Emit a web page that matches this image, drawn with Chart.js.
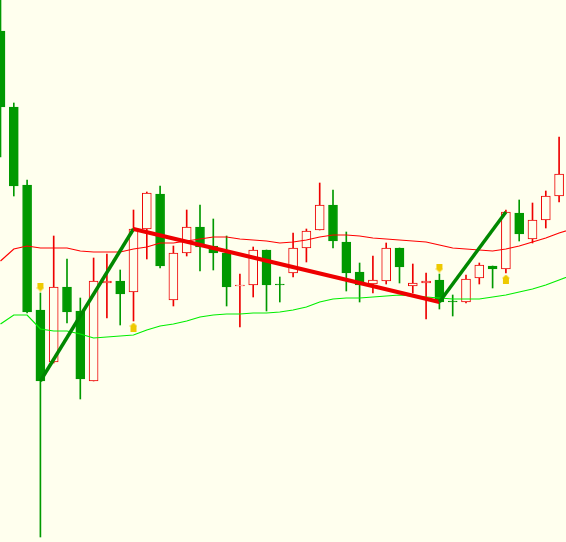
<!DOCTYPE html>
<html>
<head>
<meta charset="utf-8">
<script src="https://cdn.jsdelivr.net/npm/chart.js@4"></script>
<style>
  html, body { margin: 0; padding: 0; background: #FFFFEE; }
  #wrap { width: 566px; height: 542px; position: relative; }
</style>
</head>
<body>
<div id="wrap"><canvas id="chart"></canvas></div>
<script>
const BG = '#FFFFEE'
const UP_COLOR = '#EE0000'
const DOWN_COLOR = '#009900'
const ARROW_COLOR = '#EEC900'

// candles, one per bar
const opens = [1.1311, 1.1235, 1.1157, 1.1032, 1.0980, 1.1055, 1.1031, 1.0961, 1.1059, 1.1061,
	1.1050, 1.1113, 1.1148, 1.1042, 1.1089, 1.1115, 1.1096, 1.1089, 1.1056, 1.1057,
	1.1092, 1.1058, 1.1069, 1.1094, 1.1112, 1.1137, 1.1100, 1.1070, 1.1058, 1.1061,
	1.1094, 1.1056, 1.1059, 1.1062, 1.1041, 1.1040, 1.1064, 1.1076, 1.1073, 1.1129,
	1.1103, 1.1122, 1.1146]
const highs = [1.1352, 1.1239, 1.1162, 1.1049, 1.1106, 1.1083, 1.1044, 1.1084, 1.1088, 1.1072,
	1.1132, 1.1150, 1.1156, 1.1096, 1.1132, 1.1137, 1.1123, 1.1106, 1.1068, 1.1095,
	1.1092, 1.1065, 1.1109, 1.1113, 1.1159, 1.1152, 1.1110, 1.1079, 1.1086, 1.1099,
	1.1094, 1.1078, 1.1069, 1.1068, 1.1047, 1.1067, 1.1079, 1.1076, 1.1132, 1.1142,
	1.1139, 1.1151, 1.1205]
const lows = [1.1185, 1.1146, 1.1029, 1.0805, 1.0979, 1.1019, 1.0943, 1.0961, 1.1024, 1.1017,
	1.1021, 1.1083, 1.1074, 1.1036, 1.1086, 1.1071, 1.1072, 1.1036, 1.1015, 1.1045,
	1.1031, 1.1040, 1.1065, 1.1080, 1.1112, 1.1094, 1.1051, 1.1040, 1.1049, 1.1058,
	1.1059, 1.1049, 1.1023, 1.1033, 1.1026, 1.1039, 1.1058, 1.1054, 1.1069, 1.1101,
	1.1099, 1.1114, 1.1140]
const closes = [1.1235, 1.1156, 1.1030, 1.0961, 1.1055, 1.1030, 1.0963, 1.1061, 1.1061, 1.1048,
	1.1113, 1.1149, 1.1076, 1.1089, 1.1115, 1.1095, 1.1089, 1.1055, 1.1057, 1.1092,
	1.1057, 1.1057, 1.1094, 1.1111, 1.1137, 1.1101, 1.1069, 1.1057, 1.1062, 1.1094,
	1.1075, 1.1059, 1.1061, 1.1040, 1.1040, 1.1063, 1.1077, 1.1073, 1.1130, 1.1108,
	1.1122, 1.1146, 1.1168]

// envelope bands (one extra value for the bar beyond the right edge)
const upperBand = [1.1081, 1.1093, 1.1096, 1.1094, 1.1094, 1.1094, 1.1091, 1.1090, 1.1090, 1.1090,
	1.1093, 1.1095, 1.1099, 1.1099, 1.1101, 1.1103, 1.1105, 1.1105, 1.1103, 1.1102,
	1.1101, 1.1099, 1.1100, 1.1102, 1.1105, 1.1107, 1.1107, 1.1106, 1.1104, 1.1103,
	1.1102, 1.1101, 1.1100, 1.1097, 1.1094, 1.1093, 1.1092, 1.1091, 1.1093, 1.1096,
	1.1100, 1.1104, 1.1109, 1.1113]
const lowerBand = [1.1018, 1.1027, 1.1027, 1.1013, 1.1011, 1.1011, 1.1008, 1.1004, 1.1005, 1.1006,
	1.1007, 1.1012, 1.1016, 1.1018, 1.1021, 1.1025, 1.1027, 1.1028, 1.1028, 1.1029,
	1.1029, 1.1030, 1.1032, 1.1035, 1.1040, 1.1043, 1.1044, 1.1044, 1.1045, 1.1046,
	1.1047, 1.1046, 1.1045, 1.1044, 1.1043, 1.1043, 1.1043, 1.1045, 1.1047, 1.1050,
	1.1053, 1.1057, 1.1062, 1.1067]

// zigzag turning points (bar index, price)
const zigzagBars = [3, 10, 33, 38]
const zigzagPrices = [1.0961, 1.1113, 1.1040, 1.1130]

// signal arrows
const downArrowBars = [3, 33]
const downArrowPrices = [1.1055, 1.1074]
const upArrowBars = [10, 38]
const upArrowPrices = [1.1015, 1.1063]

function arrowImage(up) {
	const c = document.createElement('canvas')
	c.width = 8
	c.height = 9
	const g = c.getContext('2d')
	g.fillStyle = ARROW_COLOR
	g.beginPath()
	if (up) {
		g.moveTo(4, 0); g.lineTo(8, 4); g.lineTo(7, 4); g.lineTo(7, 9)
		g.lineTo(1, 9); g.lineTo(1, 4); g.lineTo(0, 4)
	} else {
		g.moveTo(1, 0); g.lineTo(7, 0); g.lineTo(7, 5); g.lineTo(8, 5)
		g.lineTo(4, 9); g.lineTo(0, 5); g.lineTo(1, 5)
	}
	g.closePath()
	g.fill()
	return c
}

const isUp = closes.map((c, i) => c >= opens[i])
const wickData = highs.map((h, i) => ({ x: i, y: [lows[i], h] }))
const bodyData = opens.map((o, i) => ({ x: i, y: [Math.min(o, closes[i]), Math.max(o, closes[i])] }))

new Chart(document.getElementById('chart'), {
	type: 'bar',
	data: {
		datasets: [
			{
				label: 'wicks',
				data: wickData,
				backgroundColor: isUp.map(u => u ? UP_COLOR : DOWN_COLOR),
				borderWidth: 0,
				barThickness: 1,
				grouped: false,
				order: 6
			},
			{
				label: 'bodies',
				data: bodyData,
				backgroundColor: isUp.map(u => u ? BG : DOWN_COLOR),
				borderColor: isUp.map(u => u ? UP_COLOR : DOWN_COLOR),
				borderWidth: 1,
				borderSkipped: false,
				barThickness: 9,
				grouped: false,
				order: 5
			},
			{
				type: 'line',
				label: 'upper',
				data: upperBand.map((v, i) => ({ x: i, y: v })),
				borderColor: '#FF0000',
				borderWidth: 1.2,
				pointRadius: 0,
				tension: 0,
				order: 4
			},
			{
				type: 'line',
				label: 'lower',
				data: lowerBand.map((v, i) => ({ x: i, y: v })),
				borderColor: '#00EE00',
				borderWidth: 1.2,
				pointRadius: 0,
				tension: 0,
				order: 4
			},
			{
				type: 'line',
				label: 'zigzag',
				data: zigzagBars.map((b, i) => ({ x: b, y: zigzagPrices[i] })),
				borderWidth: 4,
				pointRadius: 0,
				tension: 0,
				segment: {
					borderColor: ctx => ctx.p1.parsed.y > ctx.p0.parsed.y ? '#008800' : '#EE0000',
					borderWidth: ctx => ctx.p1.parsed.y > ctx.p0.parsed.y ? 3.5 : 4
				},
				order: 2
			},
			{
				type: 'scatter',
				label: 'sell',
				data: downArrowBars.map((b, i) => ({ x: b, y: downArrowPrices[i] })),
				pointStyle: arrowImage(false),
				order: 1
			},
			{
				type: 'scatter',
				label: 'buy',
				data: upArrowBars.map((b, i) => ({ x: b, y: upArrowPrices[i] })),
				pointStyle: arrowImage(true),
				order: 1
			}
		]
	},
	options: {
		responsive: true,
		maintainAspectRatio: false,
		animation: false,
		layout: { padding: 0, autoPadding: false },
		plugins: {
			legend: { display: false },
			tooltip: { enabled: false }
		},
		scales: {
			x: {
				type: 'linear',
				display: false,
				offset: false,
				min: -0.0376,
				max: 42.519
			},
			y: {
				display: false,
				min: 1.0800,
				max: 1.1342
			}
		}
	}
})
</script>
</body>
</html>
